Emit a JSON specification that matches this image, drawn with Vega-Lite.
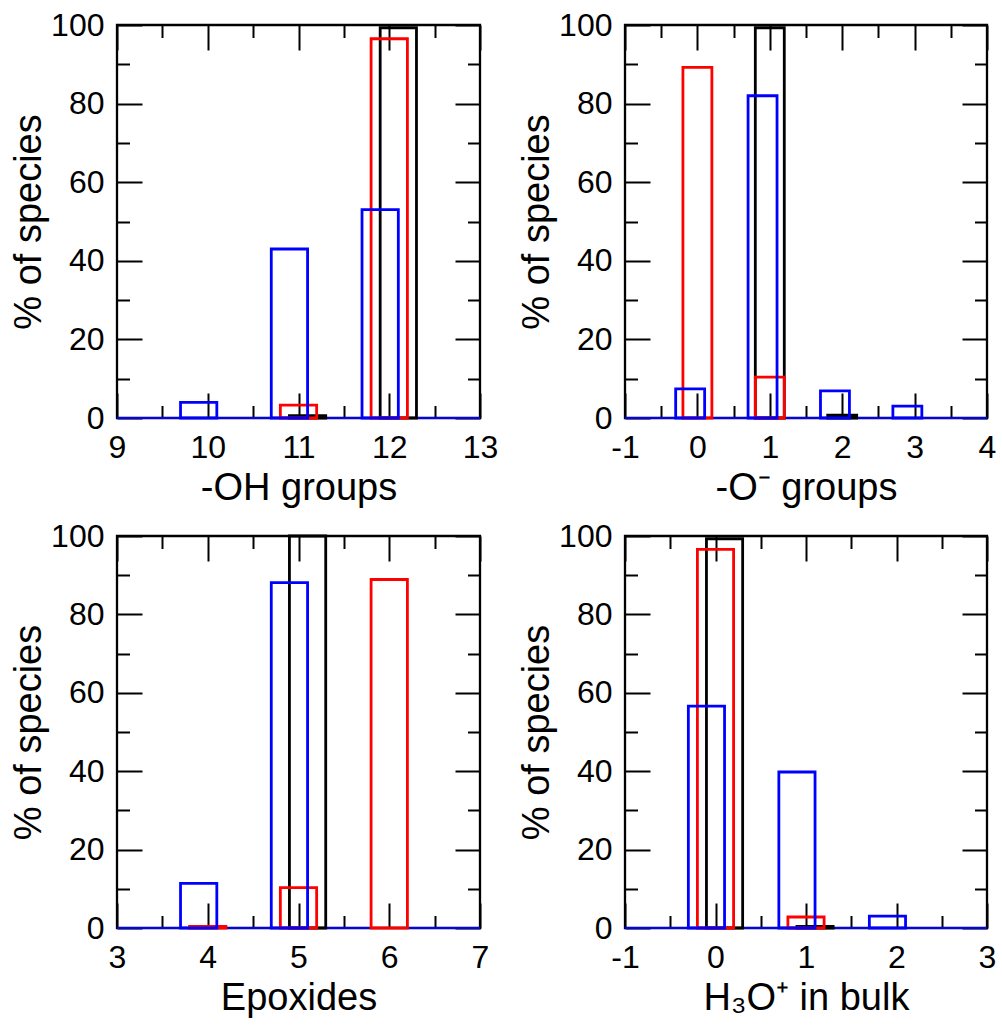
{
  "$schema": "https://vega.github.io/schema/vega-lite/v6.json",
  "background": "white",
  "padding": {"left": 9, "top": 7, "right": 2, "bottom": 2},
  "columns": 2,
  "bounds": "flush",
  "spacing": {"row": 118, "column": 145},
  "config": {
    "view": {"stroke": "black", "strokeWidth": 2.3},
    "axis": {"domain": false, "grid": false, "tickColor": "black", "tickWidth": 2, "labelColor": "black", "labelFont": "Liberation Sans", "labelFontSize": 32, "titleFont": "Liberation Sans", "titleFontSize": 38, "titleFontWeight": "normal", "titleColor": "black", "labelFlush": false, "labelOverlap": false, "labelPadding": 14, "titlePadding": 6},
    "axisY": {"labelPadding": 13, "titlePadding": 2},
    "bar": {"strokeWidth": 2.8}
  },
  "concat": [
    {
      "width": 363, "height": 393,
      "data": {"values": [
        {"series": "black", "lo": 10.9, "hi": 11.3, "pct": 0.6},
        {"series": "black", "lo": 11.9, "hi": 12.3, "pct": 99.3},
        {"series": "red", "lo": 10.8, "hi": 11.2, "pct": 3.3},
        {"series": "red", "lo": 11.8, "hi": 12.2, "pct": 96.5},
        {"series": "blue", "lo": 9.7, "hi": 10.1, "pct": 4},
        {"series": "blue", "lo": 10.7, "hi": 11.1, "pct": 43},
        {"series": "blue", "lo": 11.7, "hi": 12.1, "pct": 53}
      ]},
      "layer": [
        {"mark": {"type": "rule", "color": "#0000ff", "strokeWidth": 2},
         "encoding": {"y": {"datum": 0, "type": "quantitative", "axis": null}}},
        {"mark": {"type": "bar", "filled": false, "strokeWidth": 2.8},
         "encoding": {
           "x": {"field": "lo", "type": "quantitative", "scale": {"domain": [9, 13], "nice": false, "zero": false},
                 "axis": {"orient": "bottom", "values": [9, 10, 11, 12, 13], "tickSize": 25, "offset": -25, "title": "-OH groups", "labelExpr": "'' + datum.value"}},
           "x2": {"field": "hi"},
           "y": {"field": "pct", "type": "quantitative", "scale": {"domain": [0, 100], "nice": false},
                 "axis": {"orient": "left", "values": [0, 20, 40, 60, 80, 100], "tickSize": 25, "offset": -25, "title": "% of species"}},
           "y2": {"datum": 0},
           "color": {"field": "series", "type": "nominal", "scale": {"domain": ["black", "red", "blue"], "range": ["#000000", "#ff0000", "#0000ff"]}, "legend": null}
         }},
        {"mark": {"type": "bar", "opacity": 0},
         "encoding": {
           "x": {"field": "lo", "type": "quantitative", "axis": {"orient": "top", "values": [9, 10, 11, 12, 13], "tickSize": 25, "offset": -25, "labels": false, "title": null}},
           "x2": {"field": "hi"},
           "y": {"field": "pct", "type": "quantitative", "axis": {"orient": "right", "values": [0, 20, 40, 60, 80, 100], "tickSize": 25, "offset": -25, "labels": false, "title": null}},
           "y2": {"datum": 0}
         }},
        {"mark": {"type": "bar", "opacity": 0},
         "encoding": {
           "x": {"field": "lo", "type": "quantitative", "axis": {"orient": "bottom", "values": [9.5, 10.5, 11.5, 12.5], "tickSize": 12.5, "offset": -12.5, "labels": false, "title": null}},
           "x2": {"field": "hi"},
           "y": {"field": "pct", "type": "quantitative", "axis": {"orient": "left", "values": [10, 30, 50, 70, 90], "tickSize": 12.5, "offset": -12.5, "labels": false, "title": null}},
           "y2": {"datum": 0}
         }},
        {"mark": {"type": "bar", "opacity": 0},
         "encoding": {
           "x": {"field": "lo", "type": "quantitative", "axis": {"orient": "top", "values": [9.5, 10.5, 11.5, 12.5], "tickSize": 12.5, "offset": -12.5, "labels": false, "title": null}},
           "x2": {"field": "hi"},
           "y": {"field": "pct", "type": "quantitative", "axis": {"orient": "right", "values": [10, 30, 50, 70, 90], "tickSize": 12.5, "offset": -12.5, "labels": false, "title": null}},
           "y2": {"datum": 0}
         }}
      ],
      "resolve": {"axis": {"x": "independent", "y": "independent"}}
    },
    {
      "width": 362, "height": 393,
      "data": {"values": [
        {"series": "black", "lo": 0.8, "hi": 1.2, "pct": 99.3},
        {"series": "black", "lo": 1.8, "hi": 2.2, "pct": 0.7},
        {"series": "red", "lo": -0.2, "hi": 0.2, "pct": 89.2},
        {"series": "red", "lo": 0.8, "hi": 1.2, "pct": 10.4},
        {"series": "blue", "lo": -0.3, "hi": 0.1, "pct": 7.4},
        {"series": "blue", "lo": 0.7, "hi": 1.1, "pct": 82},
        {"series": "blue", "lo": 1.7, "hi": 2.1, "pct": 6.9},
        {"series": "blue", "lo": 2.7, "hi": 3.1, "pct": 3}
      ]},
      "layer": [
        {"mark": {"type": "rule", "color": "#0000ff", "strokeWidth": 2},
         "encoding": {"y": {"datum": 0, "type": "quantitative", "axis": null}}},
        {"mark": {"type": "bar", "filled": false, "strokeWidth": 2.8},
         "encoding": {
           "x": {"field": "lo", "type": "quantitative", "scale": {"domain": [-1, 4], "nice": false, "zero": false},
                 "axis": {"orient": "bottom", "values": [-1, 0, 1, 2, 3, 4], "tickSize": 25, "offset": -25, "title": "-O⁻ groups", "labelExpr": "'' + datum.value"}},
           "x2": {"field": "hi"},
           "y": {"field": "pct", "type": "quantitative", "scale": {"domain": [0, 100], "nice": false},
                 "axis": {"orient": "left", "values": [0, 20, 40, 60, 80, 100], "tickSize": 25, "offset": -25, "title": "% of species"}},
           "y2": {"datum": 0},
           "color": {"field": "series", "type": "nominal", "scale": {"domain": ["black", "red", "blue"], "range": ["#000000", "#ff0000", "#0000ff"]}, "legend": null}
         }},
        {"mark": {"type": "bar", "opacity": 0},
         "encoding": {
           "x": {"field": "lo", "type": "quantitative", "axis": {"orient": "top", "values": [-1, 0, 1, 2, 3, 4], "tickSize": 25, "offset": -25, "labels": false, "title": null}},
           "x2": {"field": "hi"},
           "y": {"field": "pct", "type": "quantitative", "axis": {"orient": "right", "values": [0, 20, 40, 60, 80, 100], "tickSize": 25, "offset": -25, "labels": false, "title": null}},
           "y2": {"datum": 0}
         }},
        {"mark": {"type": "bar", "opacity": 0},
         "encoding": {
           "x": {"field": "lo", "type": "quantitative", "axis": {"orient": "bottom", "values": [-0.5, 0.5, 1.5, 2.5, 3.5], "tickSize": 12.5, "offset": -12.5, "labels": false, "title": null}},
           "x2": {"field": "hi"},
           "y": {"field": "pct", "type": "quantitative", "axis": {"orient": "left", "values": [10, 30, 50, 70, 90], "tickSize": 12.5, "offset": -12.5, "labels": false, "title": null}},
           "y2": {"datum": 0}
         }},
        {"mark": {"type": "bar", "opacity": 0},
         "encoding": {
           "x": {"field": "lo", "type": "quantitative", "axis": {"orient": "top", "values": [-0.5, 0.5, 1.5, 2.5, 3.5], "tickSize": 12.5, "offset": -12.5, "labels": false, "title": null}},
           "x2": {"field": "hi"},
           "y": {"field": "pct", "type": "quantitative", "axis": {"orient": "right", "values": [10, 30, 50, 70, 90], "tickSize": 12.5, "offset": -12.5, "labels": false, "title": null}},
           "y2": {"datum": 0}
         }}
      ],
      "resolve": {"axis": {"x": "independent", "y": "independent"}}
    },
    {
      "width": 363, "height": 392,
      "data": {"values": [
        {"series": "black", "lo": 4.9, "hi": 5.3, "pct": 100},
        {"series": "red", "lo": 3.8, "hi": 4.2, "pct": 0.4},
        {"series": "red", "lo": 4.8, "hi": 5.2, "pct": 10.3},
        {"series": "red", "lo": 5.8, "hi": 6.2, "pct": 88.9},
        {"series": "blue", "lo": 3.7, "hi": 4.1, "pct": 11.4},
        {"series": "blue", "lo": 4.7, "hi": 5.1, "pct": 88.1}
      ]},
      "layer": [
        {"mark": {"type": "rule", "color": "#0000ff", "strokeWidth": 2},
         "encoding": {"y": {"datum": 0, "type": "quantitative", "axis": null}}},
        {"mark": {"type": "bar", "filled": false, "strokeWidth": 2.8},
         "encoding": {
           "x": {"field": "lo", "type": "quantitative", "scale": {"domain": [3, 7], "nice": false, "zero": false},
                 "axis": {"orient": "bottom", "values": [3, 4, 5, 6, 7], "tickSize": 25, "offset": -25, "title": "Epoxides", "labelExpr": "'' + datum.value"}},
           "x2": {"field": "hi"},
           "y": {"field": "pct", "type": "quantitative", "scale": {"domain": [0, 100], "nice": false},
                 "axis": {"orient": "left", "values": [0, 20, 40, 60, 80, 100], "tickSize": 25, "offset": -25, "title": "% of species"}},
           "y2": {"datum": 0},
           "color": {"field": "series", "type": "nominal", "scale": {"domain": ["black", "red", "blue"], "range": ["#000000", "#ff0000", "#0000ff"]}, "legend": null}
         }},
        {"mark": {"type": "bar", "opacity": 0},
         "encoding": {
           "x": {"field": "lo", "type": "quantitative", "axis": {"orient": "top", "values": [3, 4, 5, 6, 7], "tickSize": 25, "offset": -25, "labels": false, "title": null}},
           "x2": {"field": "hi"},
           "y": {"field": "pct", "type": "quantitative", "axis": {"orient": "right", "values": [0, 20, 40, 60, 80, 100], "tickSize": 25, "offset": -25, "labels": false, "title": null}},
           "y2": {"datum": 0}
         }},
        {"mark": {"type": "bar", "opacity": 0},
         "encoding": {
           "x": {"field": "lo", "type": "quantitative", "axis": {"orient": "bottom", "values": [3.5, 4.5, 5.5, 6.5], "tickSize": 12.5, "offset": -12.5, "labels": false, "title": null}},
           "x2": {"field": "hi"},
           "y": {"field": "pct", "type": "quantitative", "axis": {"orient": "left", "values": [10, 30, 50, 70, 90], "tickSize": 12.5, "offset": -12.5, "labels": false, "title": null}},
           "y2": {"datum": 0}
         }},
        {"mark": {"type": "bar", "opacity": 0},
         "encoding": {
           "x": {"field": "lo", "type": "quantitative", "axis": {"orient": "top", "values": [3.5, 4.5, 5.5, 6.5], "tickSize": 12.5, "offset": -12.5, "labels": false, "title": null}},
           "x2": {"field": "hi"},
           "y": {"field": "pct", "type": "quantitative", "axis": {"orient": "right", "values": [10, 30, 50, 70, 90], "tickSize": 12.5, "offset": -12.5, "labels": false, "title": null}},
           "y2": {"datum": 0}
         }}
      ],
      "resolve": {"axis": {"x": "independent", "y": "independent"}}
    },
    {
      "width": 362, "height": 392,
      "data": {"values": [
        {"series": "black", "lo": -0.1, "hi": 0.3, "pct": 99.3},
        {"series": "black", "lo": 0.9, "hi": 1.3, "pct": 0.4},
        {"series": "red", "lo": -0.2, "hi": 0.2, "pct": 96.6},
        {"series": "red", "lo": 0.8, "hi": 1.2, "pct": 2.8},
        {"series": "blue", "lo": -0.3, "hi": 0.1, "pct": 56.6},
        {"series": "blue", "lo": 0.7, "hi": 1.1, "pct": 39.8},
        {"series": "blue", "lo": 1.7, "hi": 2.1, "pct": 3.05}
      ]},
      "layer": [
        {"mark": {"type": "rule", "color": "#0000ff", "strokeWidth": 2},
         "encoding": {"y": {"datum": 0, "type": "quantitative", "axis": null}}},
        {"mark": {"type": "bar", "filled": false, "strokeWidth": 2.8},
         "encoding": {
           "x": {"field": "lo", "type": "quantitative", "scale": {"domain": [-1, 3], "nice": false, "zero": false},
                 "axis": {"orient": "bottom", "values": [-1, 0, 1, 2, 3], "tickSize": 25, "offset": -25, "title": "H₃O⁺ in bulk", "labelExpr": "'' + datum.value"}},
           "x2": {"field": "hi"},
           "y": {"field": "pct", "type": "quantitative", "scale": {"domain": [0, 100], "nice": false},
                 "axis": {"orient": "left", "values": [0, 20, 40, 60, 80, 100], "tickSize": 25, "offset": -25, "title": "% of species"}},
           "y2": {"datum": 0},
           "color": {"field": "series", "type": "nominal", "scale": {"domain": ["black", "red", "blue"], "range": ["#000000", "#ff0000", "#0000ff"]}, "legend": null}
         }},
        {"mark": {"type": "bar", "opacity": 0},
         "encoding": {
           "x": {"field": "lo", "type": "quantitative", "axis": {"orient": "top", "values": [-1, 0, 1, 2, 3], "tickSize": 25, "offset": -25, "labels": false, "title": null}},
           "x2": {"field": "hi"},
           "y": {"field": "pct", "type": "quantitative", "axis": {"orient": "right", "values": [0, 20, 40, 60, 80, 100], "tickSize": 25, "offset": -25, "labels": false, "title": null}},
           "y2": {"datum": 0}
         }},
        {"mark": {"type": "bar", "opacity": 0},
         "encoding": {
           "x": {"field": "lo", "type": "quantitative", "axis": {"orient": "bottom", "values": [-0.5, 0.5, 1.5, 2.5], "tickSize": 12.5, "offset": -12.5, "labels": false, "title": null}},
           "x2": {"field": "hi"},
           "y": {"field": "pct", "type": "quantitative", "axis": {"orient": "left", "values": [10, 30, 50, 70, 90], "tickSize": 12.5, "offset": -12.5, "labels": false, "title": null}},
           "y2": {"datum": 0}
         }},
        {"mark": {"type": "bar", "opacity": 0},
         "encoding": {
           "x": {"field": "lo", "type": "quantitative", "axis": {"orient": "top", "values": [-0.5, 0.5, 1.5, 2.5], "tickSize": 12.5, "offset": -12.5, "labels": false, "title": null}},
           "x2": {"field": "hi"},
           "y": {"field": "pct", "type": "quantitative", "axis": {"orient": "right", "values": [10, 30, 50, 70, 90], "tickSize": 12.5, "offset": -12.5, "labels": false, "title": null}},
           "y2": {"datum": 0}
         }}
      ],
      "resolve": {"axis": {"x": "independent", "y": "independent"}}
    }
  ]
}
